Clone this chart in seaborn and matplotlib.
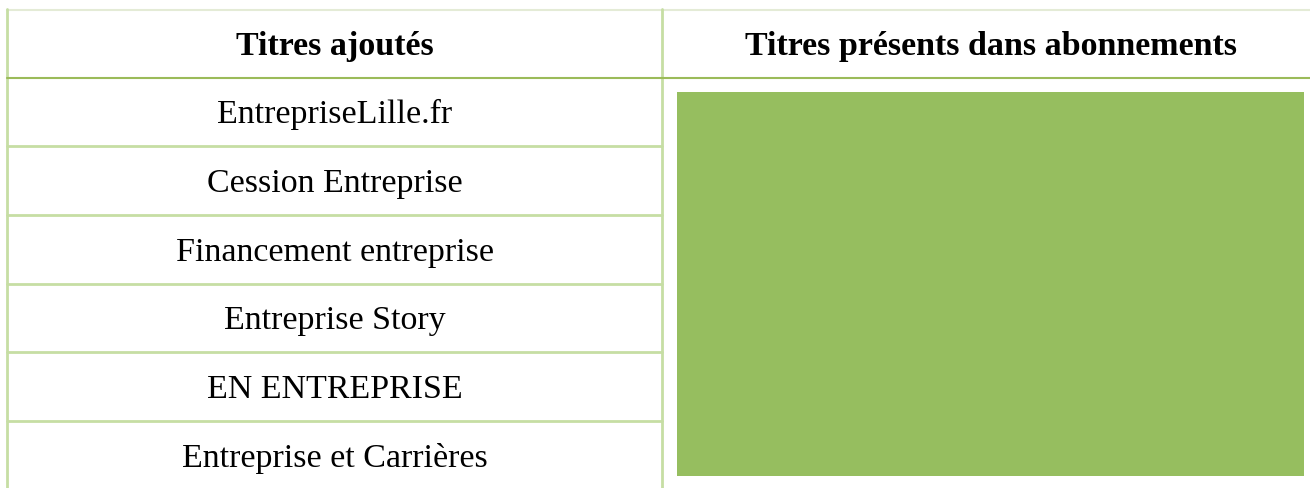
import matplotlib
matplotlib.use("Agg")
import matplotlib.pyplot as plt
import seaborn as sns

# table content
headers = ["Titres ajoutés", "Titres présents dans abonnements"]
titres_ajoutes = [
    "EntrepriseLille.fr",
    "Cession Entreprise",
    "Financement entreprise",
    "Entreprise Story",
    "EN ENTREPRISE",
    "Entreprise et Carrières",
]

sns.set_theme(style="white")
plt.rcParams["font.family"] = ["Liberation Serif", "DejaVu Serif"]

W, H = 1310, 488
fig = plt.figure(figsize=(W / 100, H / 100), dpi=100)
ax = fig.add_axes([0, 0, 1, 1])
ax.set_xlim(0, W)
ax.set_ylim(H, 0)
ax.axis("off")

light = "#c6dea4"
dark = "#9bbb59"

# frame lines
ax.plot([7, W], [9.5, 9.5], color="#e4ebd6", lw=1.5)
ax.plot([7, 7], [9, H], color=light, lw=2)
ax.plot([662, 662], [9, H], color=light, lw=2)
ax.plot([7, W], [77.5, 77.5], color=dark, lw=1.5)

# header cells
ax.text(335, 47, headers[0], ha="center", va="center", fontsize=24.5, fontweight="bold", color="black")
ax.text(991, 47, headers[1], ha="center", va="center", fontsize=24.5, fontweight="bold", color="black")

# rows of the left column
row_top = 77.5
row_h = 68.7
for i, t in enumerate(titres_ajoutes):
    y0 = row_top + i * row_h
    ax.text(335, y0 + row_h / 2 + 3, t, ha="center", va="center", fontsize=24.5, color="black")
    if i < len(titres_ajoutes) - 1:
        ax.plot([7, 662], [y0 + row_h, y0 + row_h], color=light, lw=2)

# green block in the right column
ax.add_patch(plt.Rectangle((677, 92), 627, 384, color="#96be5f", lw=0))

fig.savefig("out.png", dpi=100)
